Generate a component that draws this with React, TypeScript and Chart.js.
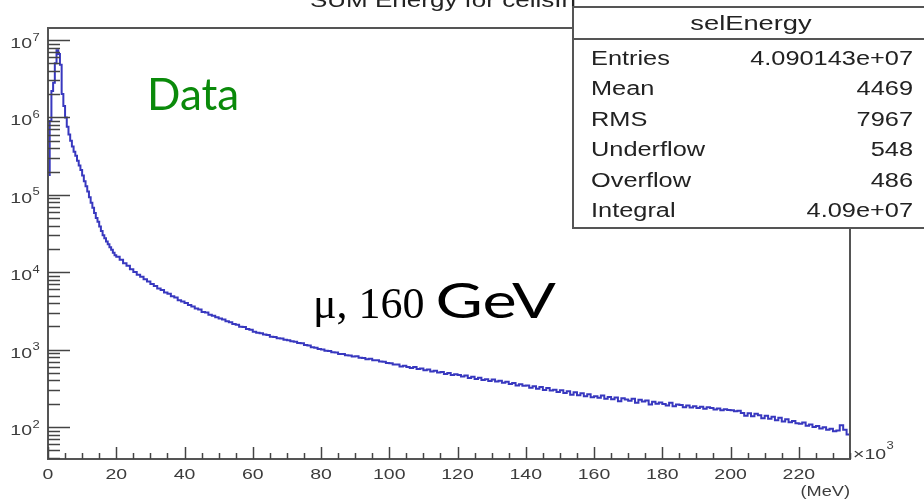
import React, { useEffect, useRef } from "react";
import { Chart, registerables } from "chart.js";

Chart.register(...registerables);

// ---- data (x in units of 10^3 MeV) ----
const fineStart = 0;
const fineWidth = 0.5;
const fineCounts = [
  180000, 900000, 2200000, 2800000, 5000000, 7400000, 6600000, 4800000, 2000000, 1400000,
  1000000, 760000, 600000, 500000, 420000, 360000, 320000, 275000, 240000, 210000,
  178000, 150000, 129000, 110000, 93000, 79000, 68000, 58000, 50000, 45000,
  39000, 34000, 30000, 27500, 25000, 23000, 21000, 19500, 17800, 16600,
];
const coarseStart = 20;
const coarseWidth = 1;
const counts20 = [15800, 14500, 13100, 12100, 10900, 10050, 9300, 8750, 8100, 7600, 7050, 6650, 6150, 5900, 5480, 5260, 4880, 4700, 4350, 4180];
const counts40 = [3990, 3780, 3610, 3400, 3290, 3070, 3010, 2830, 2740, 2610, 2520, 2440, 2330, 2250, 2150, 2100, 1980, 1960, 1850, 1810];
const counts60 = [1700, 1650, 1630, 1570, 1540, 1470, 1450, 1400, 1390, 1340, 1320, 1280, 1265, 1220, 1210, 1150, 1130, 1075, 1055, 1015];
const counts80 = [1005, 965, 960, 925, 920, 880, 875, 845, 840, 815, 820, 785, 780, 750, 760, 730, 728, 700, 698, 670];
const counts100 = [665, 640, 640, 605, 620, 595, 580, 595, 560, 570, 540, 555, 520, 535, 505, 515, 485, 500, 470, 480];
const counts120 = [470, 448, 462, 430, 445, 418, 432, 405, 415, 392, 410, 388, 395, 372, 385, 360, 370, 345, 358, 340];
const counts140 = [345, 322, 335, 312, 328, 300, 318, 296, 302, 283, 298, 276, 290, 262, 281, 258, 272, 250, 265, 243];
const counts160 = [250, 238, 255, 232, 245, 228, 240, 215, 236, 226, 218, 232, 205, 225, 214, 220, 196, 212, 200, 207];
const counts180 = [198, 190, 205, 186, 195, 192, 180, 190, 178, 185, 176, 182, 172, 180, 176, 168, 174, 165, 170, 166];
const counts200 = [165, 160, 162, 152, 140, 150, 138, 148, 142, 130, 140, 128, 136, 122, 132, 118, 126, 115, 120, 112];
const counts220 = [110, 114, 104, 108, 100, 103, 96, 99, 92, 95, 88, 90, 105, 92, 80];

const xMin = 0;
const xMax = 235;
const yMin = 38.6;
const yMax = 1.43e7;
const xTickValues = [0, 20, 40, 60, 80, 100, 120, 140, 160, 180, 200, 220];
const xMinorStep = 5;
const yDecades = [2, 3, 4, 5, 6, 7];

const titleText = "SUM Energy for cellsIn";
const statsTitle = "selEnergy";
const statsNames = ["Entries", "Mean", "RMS", "Underflow", "Overflow", "Integral"];
const statsValues = ["4.090143e+07", "4469", "7967", "548", "486", "4.09e+07"];

const SX = 1.3; // horizontal stretch of ROOT text

function drawText(
  ctx: CanvasRenderingContext2D,
  text: string,
  x: number,
  y: number,
  align: "left" | "right" | "center",
  font: string,
  color: string,
  sx = SX
) {
  ctx.save();
  ctx.font = font;
  ctx.fillStyle = color;
  ctx.textBaseline = "alphabetic";
  ctx.textAlign = "left";
  const w = ctx.measureText(text).width * sx;
  const x0 = align === "left" ? x : align === "right" ? x - w : x - w / 2;
  ctx.translate(x0, y);
  ctx.scale(sx, 1);
  ctx.fillText(text, 0, 0);
  ctx.restore();
  return w;
}

const rootPlugin = {
  id: "rootDecor",
  afterDraw(chart: any) {
    const ctx: CanvasRenderingContext2D = chart.ctx;
    const { left, right, top, bottom } = chart.chartArea;
    const xs = chart.scales.x;
    const ys = chart.scales.y;
    const axisColor = "#444";
    const labelColor = "#3c3c3c";
    const font = "Liberation Sans, Arial, sans-serif";

    ctx.save();
    // frame
    ctx.strokeStyle = "#555";
    ctx.lineWidth = 2;
    ctx.strokeRect(left, top, right - left, bottom - top);

    // y ticks (inward)
    ctx.strokeStyle = axisColor;
    ctx.lineWidth = 1.5;
    for (let d = 1; d <= 7; d++) {
      for (let m = 1; m <= 9; m++) {
        const v = m * Math.pow(10, d);
        if (v < yMin || v > yMax) continue;
        const py = Math.round(ys.getPixelForValue(v)) + 0.5;
        const len = m === 1 ? 22 : 12;
        ctx.beginPath();
        ctx.moveTo(left, py);
        ctx.lineTo(left + len, py);
        ctx.stroke();
      }
    }
    // x ticks (inward, upward)
    for (let v = xMin; v <= xMax; v += xMinorStep) {
      const px = Math.round(xs.getPixelForValue(v)) + 0.5;
      const len = v % 20 === 0 ? 12 : 6;
      ctx.beginPath();
      ctx.moveTo(px, bottom);
      ctx.lineTo(px, bottom - len);
      ctx.stroke();
    }

    // y labels
    for (const d of yDecades) {
      const py = ys.getPixelForValue(Math.pow(10, d));
      drawText(ctx, "10", 32, py + 8, "right", `15px ${font}`, labelColor);
      drawText(ctx, String(d), 32.5, py + 0.5, "left", `10px ${font}`, labelColor);
    }
    // x labels
    for (const v of xTickValues) {
      const px = xs.getPixelForValue(v);
      drawText(ctx, String(v), px, 479, "center", `15px ${font}`, labelColor);
    }
    const w = drawText(ctx, "\u00d710", right + 3, 459, "left", `15px ${font}`, labelColor);
    drawText(ctx, "3", right + 3 + w + 0.5, 449, "left", `10px ${font}`, labelColor);
    drawText(ctx, "(MeV)", right, 496, "right", `14px ${font}`, labelColor);

    // title (mostly cut off at the top)
    drawText(ctx, titleText, 310, 7, "left", `20px ${font}`, "#222");

    // stats box
    const bx = 573;
    const by = 7;
    const bw = 400;
    const bh = 221;
    ctx.fillStyle = "#fff";
    ctx.fillRect(bx, by, bw, bh);
    ctx.strokeStyle = "#555";
    ctx.lineWidth = 2;
    ctx.strokeRect(bx, by, bw, bh);
    ctx.beginPath();
    ctx.moveTo(bx, 39);
    ctx.lineTo(bx + bw, 39);
    ctx.stroke();
    drawText(ctx, statsTitle, 751, 30, "center", `21px ${font}`, "#222");
    statsNames.forEach((n, i) => {
      const yb = 65 + i * 30.4;
      drawText(ctx, n, 591, yb, "left", `19.5px ${font}`, "#222");
      drawText(ctx, statsValues[i], 913, yb, "right", `19.5px ${font}`, "#222");
    });

    // annotations
    ctx.fillStyle = "#0a8a0a";
    ctx.font = "44px Lato, sans-serif";
    ctx.textAlign = "left";
    ctx.textBaseline = "alphabetic";
    ctx.fillText("Data", 147, 110);

    ctx.fillStyle = "#000";
    ctx.font = "44px 'Liberation Serif', serif";
    const part1 = "\u03bc, 160 ";
    ctx.fillText(part1, 313, 318);
    const w1 = ctx.measureText(part1).width;
    drawText(ctx, "GeV", 313 + w1, 318, "left", "48px Lato, sans-serif", "#000", 1.35);
    ctx.restore();
  },
};

export default function App() {
  const ref = useRef<HTMLCanvasElement | null>(null);
  useEffect(() => {
    if (!ref.current) return;
    const pts: { x: number; y: number }[] = [];
    fineCounts.forEach((c, i) => pts.push({ x: fineStart + i * fineWidth, y: c }));
    const coarse = [
      ...counts20, ...counts40, ...counts60, ...counts80, ...counts100,
      ...counts120, ...counts140, ...counts160, ...counts180, ...counts200, ...counts220,
    ];
    coarse.forEach((c, i) => pts.push({ x: coarseStart + i * coarseWidth, y: c }));
    pts.push({ x: coarseStart + coarse.length * coarseWidth, y: coarse[coarse.length - 1] });

    const chart = new Chart(ref.current, {
      type: "line",
      data: {
        datasets: [
          {
            data: pts,
            borderColor: "#3838bf",
            borderWidth: 2,
            pointRadius: 0,
            stepped: "before",
            fill: false,
          },
        ],
      },
      options: {
        animation: false,
        responsive: true,
        maintainAspectRatio: false,
        devicePixelRatio: 1,
        layout: { padding: { left: 48, top: 28, right: 74, bottom: 40 } },
        plugins: { legend: { display: false }, tooltip: { enabled: false }, title: { display: false } },
        scales: {
          x: { type: "linear", min: xMin, max: xMax, display: false },
          y: { type: "logarithmic", min: yMin, max: yMax, display: false },
        },
      },
      plugins: [rootPlugin],
    });
    return () => chart.destroy();
  }, []);

  return (
    <div style={{ position: "absolute", left: 0, top: 0, width: 924, height: 499, background: "#fff" }}>
      <canvas ref={ref} />
    </div>
  );
}
